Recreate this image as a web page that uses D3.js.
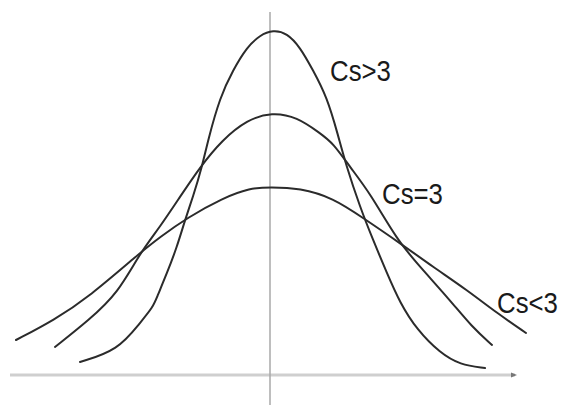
<!DOCTYPE html>
<html>
<head>
<meta charset="utf-8">
<script src="https://cdn.jsdelivr.net/npm/d3@7"></script>
<style>
  body { margin: 0; background: #fff; }
  svg { display: block; }
</style>
</head>
<body>
<svg id="chart" width="561" height="405"></svg>
<script>
const width = 561;
const height = 405;

// curves (x relative to the centre, y above the axis)
const csHighX = [-3.84, -3.08, -2.64, -2.38, -2.30, -2.10, -1.90, -1.74, -1.58, -1.40, -1.28, -1.04, -0.78, -0.50, -0.24, 0.02, 0.30, 0.56, 0.82, 1.10, 1.32, 1.48, 1.76, 2.02, 2.30, 2.56, 2.90, 3.36, 3.76, 4.26];
const csHighY = [0.37, 0.71, 1.49, 1.94, 2.23, 2.91, 3.66, 4.43, 5.09, 5.94, 6.71, 7.94, 8.71, 9.37, 9.71, 9.86, 9.77, 9.37, 8.71, 7.94, 6.86, 6.00, 4.80, 3.86, 2.91, 2.06, 1.29, 0.63, 0.29, 0.20];

const csMidX = [-4.34, -3.66, -3.08, -2.64, -2.24, -1.84, -1.44, -1.00, -0.50, 0.00, 0.50, 0.96, 1.22, 1.56, 1.96, 2.50, 2.96, 3.56, 4.00, 4.40];
const csMidY = [0.80, 1.57, 2.34, 3.49, 4.23, 5.09, 5.94, 6.71, 7.29, 7.51, 7.37, 6.91, 6.63, 5.94, 5.20, 3.86, 3.09, 2.14, 1.37, 0.86];

const csLowX = [-5.12, -4.36, -3.66, -2.64, -2.24, -1.70, -0.98, -0.44, -0.04, 0.56, 1.22, 1.82, 2.56, 3.22, 3.90, 4.50, 5.08];
const csLowY = [1.00, 1.57, 2.23, 3.49, 3.94, 4.49, 5.06, 5.34, 5.37, 5.34, 5.06, 4.49, 3.77, 3.09, 2.43, 1.77, 1.20];

const labels = ["Cs>3", "Cs=3", "Cs<3"];
const labelX = [1.16, 2.20, 4.50];
const labelY = [8.40, 4.89, 1.77];

const axisXExtent = [-5.24, 4.86];
const axisCentre = -0.04;

const svg = d3.select("#chart");

const x = d3.scaleLinear().domain([-5, 5]).range([22, 522]);
const y = d3.scaleLinear().domain([0, 10]).range([375, 25]);

// horizontal axis
svg.append("line")
    .attr("x1", x(axisXExtent[0]))
    .attr("x2", x(axisXExtent[1]))
    .attr("y1", y(0))
    .attr("y2", y(0))
    .attr("stroke", "#cfcfcf")
    .attr("stroke-width", 3);

svg.append("path")
    .attr("d", `M${x(axisXExtent[1]) - 4},${y(0) - 2.5} L${x(axisXExtent[1]) + 2},${y(0)} L${x(axisXExtent[1]) - 4},${y(0) + 2.5} Z`)
    .attr("fill", "#777");

// vertical axis
svg.append("line")
    .attr("x1", x(axisCentre))
    .attr("x2", x(axisCentre))
    .attr("y1", 12)
    .attr("y2", height)
    .attr("stroke", "#a8a8a8")
    .attr("stroke-width", 1.5);

const line = d3.line()
    .x(function(d){ return x(d[0]); })
    .y(function(d){ return y(d[1]); })
    .curve(d3.curveBasis);

const series = [
    d3.zip(csHighX, csHighY),
    d3.zip(csMidX, csMidY),
    d3.zip(csLowX, csLowY)
];

svg.selectAll("path.curve")
    .data(series)
    .enter()
    .append("path")
        .attr("class", "curve")
        .attr("d", line)
        .attr("fill", "none")
        .attr("stroke", "#2b2b2b")
        .attr("stroke-width", 2)
        .attr("stroke-linecap", "round");

svg.selectAll("text.label")
    .data(labels)
    .enter()
    .append("text")
        .attr("class", "label")
        .attr("transform", function(d, i){ return `translate(${x(labelX[i])}, ${y(labelY[i])}) scale(0.86, 1)`; })
        .attr("font-family", "Liberation Sans, Arial, sans-serif")
        .attr("font-size", 30)
        .attr("fill", "#1a1a1a")
        .text(function(d){ return d; });
</script>
</body>
</html>
